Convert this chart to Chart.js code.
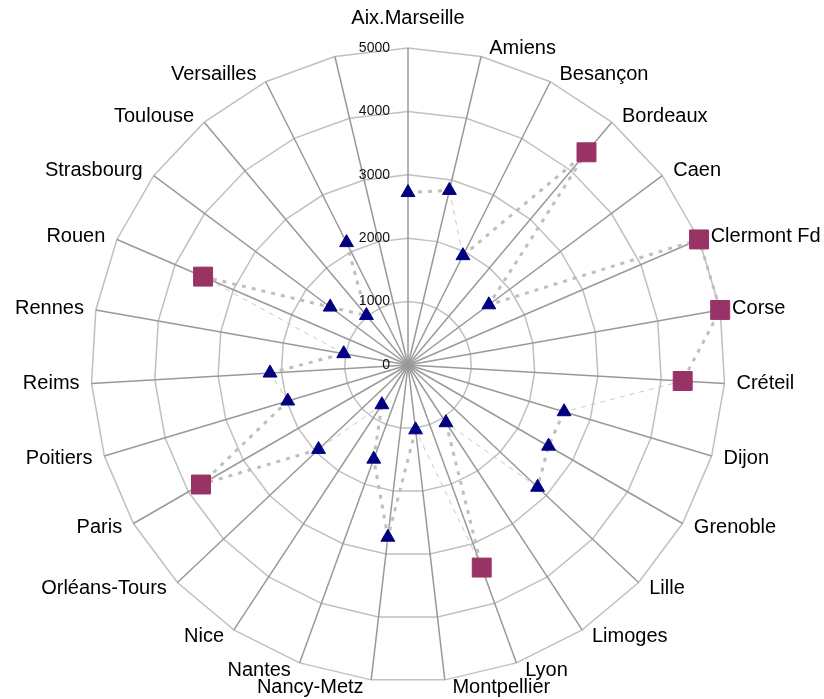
<!DOCTYPE html>
<html lang="fr">
<head>
<meta charset="utf-8">
<title>Académies</title>
<script src="https://cdn.jsdelivr.net/npm/chart.js@4.4.1/dist/chart.umd.min.js"></script>
<style>
  html, body { margin: 0; padding: 0; background: #fff; }
  #wrap { width: 824px; height: 699px; }
</style>
</head>
<body>
<div id="wrap"><canvas id="radar" width="824" height="699"></canvas></div>
<script>
// categories (the last spoke has no name and no value)
const academies = ['Aix.Marseille', 'Amiens', 'Besançon', 'Bordeaux', 'Caen', 'Clermont Fd', 'Corse',
  'Créteil', 'Dijon', 'Grenoble', 'Lille', 'Limoges', 'Lyon', 'Montpellier', 'Nancy-Metz', 'Nantes',
  'Nice', 'Orléans-Tours', 'Paris', 'Poitiers', 'Reims', 'Rennes', 'Rouen', 'Strasbourg', 'Toulouse',
  'Versailles', ''];
const values = [2720, 2830, 1930, 4380, 1590, 5000, 5000,
  4340, 2570, 2560, 2810, 1090, 3400, 1030, 2735, 1580,
  750, 1940, 3770, 1980, 2180, 1030, 3520, 1530, 1020,
  2160, null];
// points shown with a square marker
const squarePoints = ['Bordeaux', 'Clermont Fd', 'Corse', 'Créteil', 'Lyon', 'Paris', 'Rouen'];
// segments (from point i to i+1) drawn with the thin dashed line
const thinSegments = [1, 7, 10, 12, 16, 19, 21, 25];
const tickValues = [0, 1000, 2000, 3000, 4000, 5000];

const isSquare = i => squarePoints.includes(academies[i]);

const thickStyle = { borderWidth: 3, borderDash: [4, 6], borderColor: '#bfbfbf' };
const thinStyle = { borderWidth: 1, borderDash: [5, 5], borderColor: '#c8c8c8' };
const segmentStyle = ctx => thinSegments.includes(ctx.p0DataIndex) ? thinStyle : thickStyle;

// the radar controller does not pass "segment" to its line, so hand it over here
const segmentPlugin = {
  id: 'segmentStyles',
  beforeDatasetsDraw(chart) {
    const line = chart.getDatasetMeta(0).dataset;
    line._chart = chart;
    line._datasetIndex = 0;
    line.options = Object.assign({}, line.options, { segment: { setContext: segmentStyle } });
    delete line._segments;
    delete line._path;
  }
};

// category names and tick numbers, placed like the original
const labelsPlugin = {
  id: 'academyLabels',
  afterDraw(chart) {
    const scale = chart.scales.r;
    const ctx = chart.ctx;
    const outer = scale.getDistanceFromCenterForValue(scale.max);
    ctx.save();
    ctx.fillStyle = '#000';
    ctx.textBaseline = 'middle';

    ctx.font = '20px "Liberation Sans", Arial, sans-serif';
    academies.forEach((name, i) => {
      if (!name) return;
      const p = scale.getPointPosition(i, outer);
      const a = scale.getIndexAngle(i) - Math.PI / 2;
      const c = Math.cos(a), s = Math.sin(a);
      if (Math.abs(c) < 0.01) {
        ctx.textAlign = 'center';
        ctx.fillText(name, p.x, p.y + 30 * s);
      } else {
        ctx.textAlign = c > 0 ? 'left' : 'right';
        ctx.fillText(name, p.x + Math.sign(c) * (7 + 5 * Math.abs(c)), p.y + 8 * s);
      }
    });

    ctx.font = '14px "Liberation Sans", Arial, sans-serif';
    ctx.fillStyle = '#111';
    ctx.textAlign = 'right';
    tickValues.forEach(v => {
      ctx.fillText(String(v), scale.xCenter - 18, scale.yCenter - scale.getDistanceFromCenterForValue(v));
    });
    ctx.restore();
  }
};

new Chart(document.getElementById('radar'), {
  type: 'radar',
  data: {
    labels: academies,
    datasets: [{
      data: values,
      fill: false,
      spanGaps: false,
      backgroundColor: 'transparent',
      borderColor: '#bfbfbf',
      borderWidth: 3,
      borderDash: [4, 6],
      pointStyle: ctx => isSquare(ctx.dataIndex) ? 'rect' : 'triangle',
      pointRadius: ctx => isSquare(ctx.dataIndex) ? 13.4 : 8,
      pointBackgroundColor: ctx => isSquare(ctx.dataIndex) ? '#993366' : '#000080',
      pointBorderColor: ctx => isSquare(ctx.dataIndex) ? '#993366' : '#000080',
      pointBorderWidth: 1
    }]
  },
  options: {
    responsive: false,
    animation: false,
    layout: { padding: { left: 91, right: 99, top: 48, bottom: 17 } },
    plugins: {
      legend: { display: false },
      tooltip: { enabled: false }
    },
    scales: {
      r: {
        min: 0,
        max: 5000,
        beginAtZero: true,
        ticks: { display: false, stepSize: 1000 },
        pointLabels: { display: false },
        grid: { color: '#c0c0c0', lineWidth: 1.5 },
        angleLines: { color: '#999999', lineWidth: 1.5 }
      }
    }
  },
  plugins: [segmentPlugin, labelsPlugin]
});
</script>
</body>
</html>
